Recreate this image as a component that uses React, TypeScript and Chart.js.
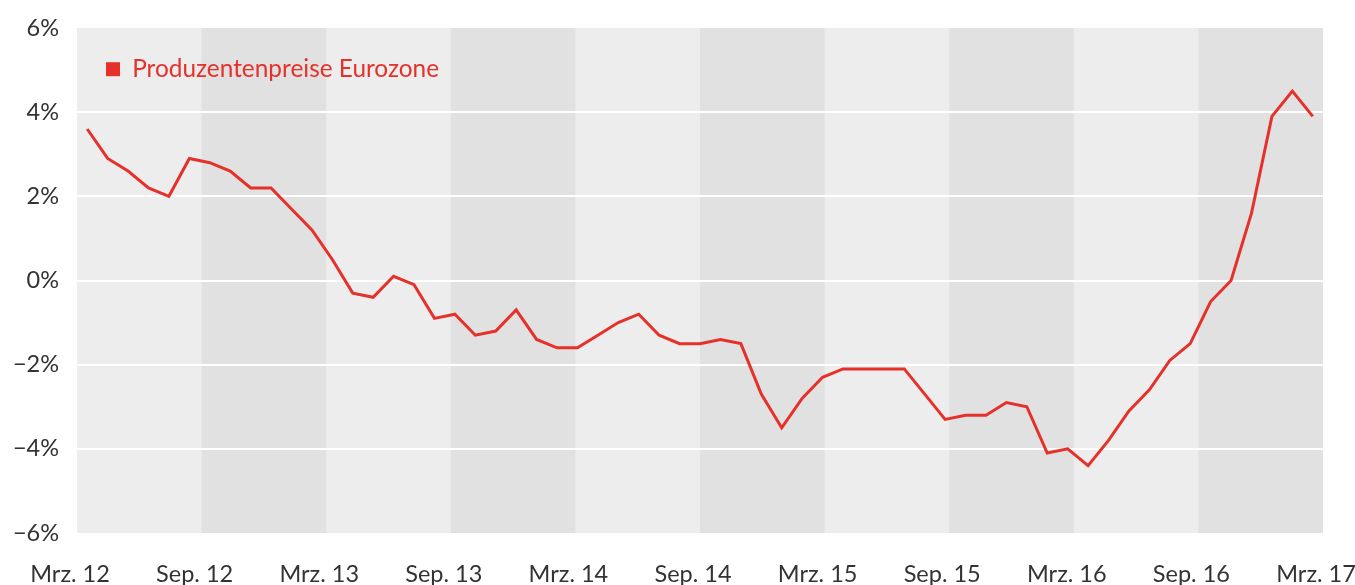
import React, { useEffect, useRef } from "react";
import { Chart, registerables } from "chart.js";

Chart.register(...registerables);

const monthNames = ["Jan.", "Feb.", "Mrz.", "Apr.", "Mai", "Jun.", "Jul.", "Aug.", "Sep.", "Okt.", "Nov.", "Dez."];
// Monthly categories Mrz. 2012 … Mrz. 2017
const categories: string[] = Array.from({ length: 61 }, (_, i) => {
  const m = (2 + i) % 12;
  const y = 12 + Math.floor((2 + i) / 12);
  return `${monthNames[m]} ${y}`;
});

const seriesName = "Produzentenpreise Eurozone";
const ppiValues = [
  3.6, 2.9, 2.6, 2.2, 2.0, 2.9, 2.8, 2.6, 2.2, 2.2,
  1.7, 1.2, 0.5, -0.3, -0.4, 0.1, -0.1, -0.9, -0.8, -1.3,
  -1.2, -0.7, -1.4, -1.6, -1.6, -1.3, -1.0, -0.8, -1.3, -1.5,
  -1.5, -1.4, -1.5, -2.7, -3.5, -2.8, -2.3, -2.1, -2.1, -2.1,
  -2.1, -2.7, -3.3, -3.2, -3.2, -2.9, -3.0, -4.1, -4.0, -4.4,
  -3.8, -3.1, -2.6, -1.9, -1.5, -0.5, 0.0, 1.6, 3.9, 4.5,
  3.9,
];

const xTickLabels = [
  "Mrz. 12", "Sep. 12", "Mrz. 13", "Sep. 13", "Mrz. 14", "Sep. 14",
  "Mrz. 15", "Sep. 15", "Mrz. 16", "Sep. 16", "Mrz. 17",
];
const yTickValues = [-6, -4, -2, 0, 2, 4, 6];
const yTickLabels = ["\u22126%", "\u22124%", "\u22122%", "0%", "2%", "4%", "6%"];

const RED = "#e6312a";
const TEXT = "#333333";
const BAND_LIGHT = "#ededed";
const BAND_DARK = "#e1e1e1";
const FONT = "Lato, 'Open Sans', sans-serif";
const FS = 23.5;
const LEGEND_FS = 24.4;

const bandsPlugin = {
  id: "bands",
  beforeDraw(chart: any) {
    const { ctx, chartArea } = chart;
    const xs = chart.scales.x2;
    ctx.save();
    ctx.fillStyle = BAND_LIGHT;
    ctx.fillRect(chartArea.left, chartArea.top, chartArea.right - chartArea.left, chartArea.bottom - chartArea.top);
    ctx.fillStyle = BAND_DARK;
    for (let i = 1; i < xTickLabels.length - 1; i += 2) {
      const a = xs.getPixelForValue(i);
      const b = xs.getPixelForValue(i + 1);
      ctx.fillRect(a, chartArea.top, b - a, chartArea.bottom - chartArea.top);
    }
    ctx.restore();
  },
};

export default function App() {
  const ref = useRef<HTMLCanvasElement | null>(null);

  useEffect(() => {
    if (!ref.current) return;
    Chart.defaults.font.family = FONT;
    const chart = new Chart(ref.current, {
      type: "line",
      data: {
        labels: categories,
        datasets: [
          {
            label: seriesName,
            data: ppiValues,
            borderColor: RED,
            backgroundColor: RED,
            borderWidth: 3,
            pointRadius: 0,
            tension: 0,
            xAxisID: "x",
            yAxisID: "y",
          },
        ],
      },
      options: {
        animation: false,
        responsive: false,
        layout: { padding: { top: 28, right: 32, left: 0, bottom: 0 } },
        plugins: {
          tooltip: { enabled: false },
          legend: {
            position: "chartArea",
            align: "start",
            title: { display: true, text: "", font: { size: 10 }, padding: { top: 16, bottom: 0 } },
            labels: {
              color: RED,
              font: { size: LEGEND_FS, family: FONT },
              boxWidth: 14,
              boxHeight: 14,
              padding: 29,
              generateLabels: (c: any) =>
                Chart.defaults.plugins.legend.labels.generateLabels(c).map((l: any) => ({ ...l, lineWidth: 0, fontColor: RED })),
            },
          },
        },
        scales: {
          x: {
            type: "category",
            offset: true,
            display: false,
          },
          x2: {
            type: "linear",
            position: "bottom",
            min: 0,
            max: xTickLabels.length - 1,
            grid: { display: false, drawTicks: false },
            border: { display: false },
            ticks: {
              stepSize: 1,
              autoSkip: false,
              maxRotation: 0,
              labelOffset: -7,
              padding: 27,
              color: TEXT,
              font: { size: FS, family: FONT },
              callback: (v: any) => xTickLabels[v] ?? "",
            },
            afterFit: (s: any) => {
              s.height = 52;
              s.paddingLeft = 0;
              s.paddingRight = 0;
            },
          },
          y: {
            type: "linear",
            min: yTickValues[0],
            max: yTickValues[yTickValues.length - 1],
            border: { display: false },
            grid: {
              drawTicks: false,
              lineWidth: 2,
              color: (ctx: any) =>
                ctx.tick && (ctx.tick.value === 6 || ctx.tick.value === -6) ? "rgba(0,0,0,0)" : "#ffffff",
            },
            ticks: {
              stepSize: 2,
              padding: 18,
              color: TEXT,
              font: { size: FS, family: FONT },
              callback: (v: any) => {
                const idx = yTickValues.indexOf(Number(v));
                return idx >= 0 ? yTickLabels[idx] : "";
              },
            },
            afterFit: (s: any) => {
              s.width = 77;
              s.paddingTop = 0;
              s.paddingBottom = 0;
            },
          },
        },
      } as any,
      plugins: [bandsPlugin],
    });
    return () => chart.destroy();
  }, []);

  return (
    <div style={{ position: "fixed", left: 0, top: 0, width: 1355, height: 585, background: "#ffffff" }}>
      <canvas ref={ref} width={1355} height={585} style={{ display: "block" }} />
    </div>
  );
}
